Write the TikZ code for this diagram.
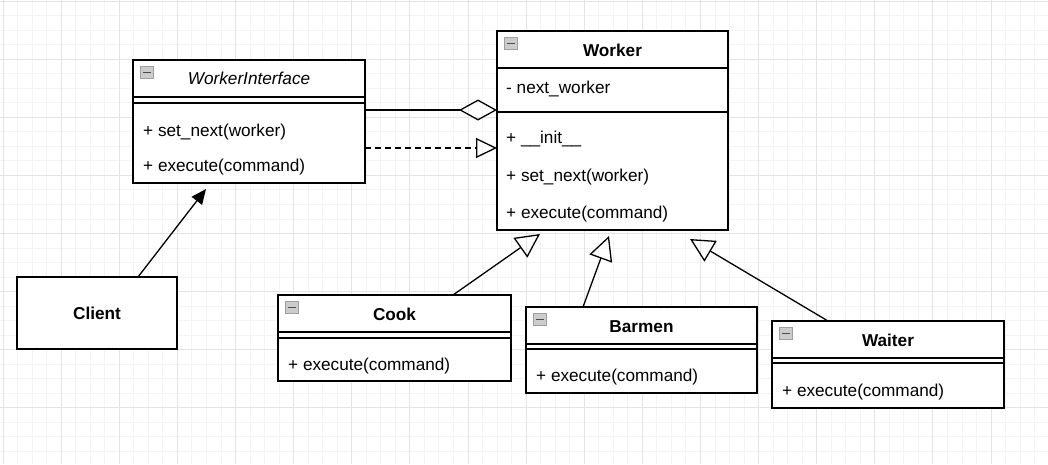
\documentclass[tikz,border=0pt]{standalone}
\usepackage{fontspec}
\setmainfont{Liberation Sans}
\usepackage{tikz}
\usetikzlibrary{arrows.meta}

\newcommand{\umlfont}{\fontsize{17.2}{20}\selectfont}

\tikzset{
  classbox/.style={draw, line width=1.3pt, fill=white, anchor=north west,
    inner sep=0pt, outer sep=0pt},
  member/.style={anchor=west, inner sep=0pt, text height=12.4pt, text depth=3.6pt},
  classname/.style={inner sep=0pt, font={\umlfont\bfseries}, text height=12.4pt, text depth=3.6pt},
  foldicon/.style={draw=gray!75, fill=gray!40, minimum width=13pt, minimum height=12pt,
    inner sep=0pt, line width=0.8pt,
    path picture={\draw[black!70, line width=1.4pt]
      ([xshift=2.5pt]path picture bounding box.west) --
      ([xshift=-2.5pt]path picture bounding box.east);}},
  sepline/.style={line width=1.3pt},
  minorgrid/.style={gray!9, line width=0.9pt},
  majorgrid/.style={gray!22, line width=0.9pt},
  uses/.style={line width=1.3pt, -{Triangle[length=15pt,width=13pt]}},
  aggr/.style={line width=1.3pt, -{Diamond[open,length=38pt,width=21pt]}},
  realize/.style={line width=1.3pt, dash pattern=on 6pt off 4pt,
    -{Triangle[open,length=21pt,width=20pt]}},
  inherit/.style={line width=1.3pt, -{Triangle[open,length=24pt,width=24pt]}}
}

\begin{document}
\begin{tikzpicture}[x=1pt, y=-1pt, font=\umlfont]
        \useasboundingbox (0,0) rectangle (1048,464);

        % The grid
        \begin{scope}
          \clip (0,0) rectangle (1048,464);
          \foreach \i in {0,...,72}
            \draw[minorgrid] ({3+14.53*\i},0) -- ({3+14.53*\i},464);
          \foreach \i in {0,...,32}
            \draw[minorgrid] (0,{1+14.53*\i}) -- (1048,{1+14.53*\i});
          \foreach \i in {0,...,18}
            \draw[majorgrid] ({3+58.12*\i},0) -- ({3+58.12*\i},464);
          \foreach \i in {0,...,8}
            \draw[majorgrid] (0,{1+58.12*\i}) -- (1048,{1+58.12*\i});
        \end{scope}

        % The interface
        \node[classbox, minimum width=232pt, minimum height=123pt] (wi) at (133,60) {};
        \draw[sepline] ([yshift=-37pt]wi.north west) -- ([yshift=-37pt]wi.north east);
        \draw[sepline] ([yshift=-43pt]wi.north west) -- ([yshift=-43pt]wi.north east);
        \node[foldicon] (wiIcon) at ([xshift=13.5pt,yshift=-12.5pt]wi.north west) {};
        \node[classname, font={\umlfont\itshape}] (wiName) at ([yshift=-20pt]wi.north) {WorkerInterface};
        \node[member] (wiSet) at ([xshift=10pt,yshift=-72pt]wi.north west) {+ set\_next(worker)};
        \node[member] (wiExec) at ([xshift=10pt,yshift=-107pt]wi.north west) {+ execute(command)};

        % The base class
        \node[classbox, minimum width=231pt, minimum height=199pt] (wk) at (497,31) {};
        \draw[sepline] ([yshift=-37pt]wk.north west) -- ([yshift=-37pt]wk.north east);
        \draw[sepline] ([yshift=-81pt]wk.north west) -- ([yshift=-81pt]wk.north east);
        \node[foldicon] (wkIcon) at ([xshift=13.5pt,yshift=-12.5pt]wk.north west) {};
        \node[classname] (wkName) at ([yshift=-21pt]wk.north) {Worker};
        \node[member] (wkNext) at ([xshift=9pt,yshift=-58pt]wk.north west) {- next\_worker};
        \node[member] (wkInit) at ([xshift=9pt,yshift=-108pt]wk.north west) {+ \_\_init\_\_};
        \node[member] (wkSet) at ([xshift=9pt,yshift=-146pt]wk.north west) {+ set\_next(worker)};
        \node[member] (wkExec) at ([xshift=9pt,yshift=-183pt]wk.north west) {+ execute(command)};

        % The client
        \node[classbox, minimum width=160pt, minimum height=72pt] (cl) at (17,277) {};
        \node[classname] (clName) at ([yshift=-2pt]cl.center) {Client};

        % The workers
        \node[classbox, minimum width=233pt, minimum height=86pt] (ck) at (278,295) {};
        \draw[sepline] ([yshift=-37pt]ck.north west) -- ([yshift=-37pt]ck.north east);
        \draw[sepline] ([yshift=-43pt]ck.north west) -- ([yshift=-43pt]ck.north east);
        \node[foldicon] (ckIcon) at ([xshift=13.5pt,yshift=-12.5pt]ck.north west) {};
        \node[classname] (ckName) at ([yshift=-21pt]ck.north) {Cook};
        \node[member] (ckExec) at ([xshift=10pt,yshift=-71pt]ck.north west) {+ execute(command)};

        \node[classbox, minimum width=231pt, minimum height=86pt] (bm) at (526,307) {};
        \draw[sepline] ([yshift=-37pt]bm.north west) -- ([yshift=-37pt]bm.north east);
        \draw[sepline] ([yshift=-42pt]bm.north west) -- ([yshift=-42pt]bm.north east);
        \node[foldicon] (bmIcon) at ([xshift=13.5pt,yshift=-12.5pt]bm.north west) {};
        \node[classname] (bmName) at ([yshift=-21.5pt]bm.north) {Barmen};
        \node[member] (bmExec) at ([xshift=10pt,yshift=-70pt]bm.north west) {+ execute(command)};

        \node[classbox, minimum width=232pt, minimum height=87pt] (wt) at (772,321) {};
        \draw[sepline] ([yshift=-37pt]wt.north west) -- ([yshift=-37pt]wt.north east);
        \draw[sepline] ([yshift=-42pt]wt.north west) -- ([yshift=-42pt]wt.north east);
        \node[foldicon] (wtIcon) at ([xshift=13.5pt,yshift=-12.5pt]wt.north west) {};
        \node[classname] (wtName) at ([yshift=-21.5pt]wt.north) {Waiter};
        \node[member] (wtExec) at ([xshift=10pt,yshift=-71pt]wt.north west) {+ execute(command)};

        % Interface edges
        \draw[uses] ([xshift=41pt]cl.north) -- ([xshift=-43pt,yshift=-6pt]wi.south);
        \draw[aggr] ([yshift=-50pt]wi.north east) -- ([yshift=-79pt]wk.north west);
        \draw[realize] ([yshift=-88pt]wi.north east) -- ([yshift=-117pt]wk.north west);

        % Inheritance edges
        \draw[inherit] ([xshift=175pt]ck.north west) -- ([xshift=43pt,yshift=-4pt]wk.south west);
        \draw[inherit] ([xshift=57pt]bm.north west) -- ([xshift=112pt,yshift=-6pt]wk.south west);
        \draw[inherit] ([xshift=56pt]wt.north west) -- ([xshift=193pt,yshift=-9pt]wk.south west);

    \end{tikzpicture}
\end{document}
